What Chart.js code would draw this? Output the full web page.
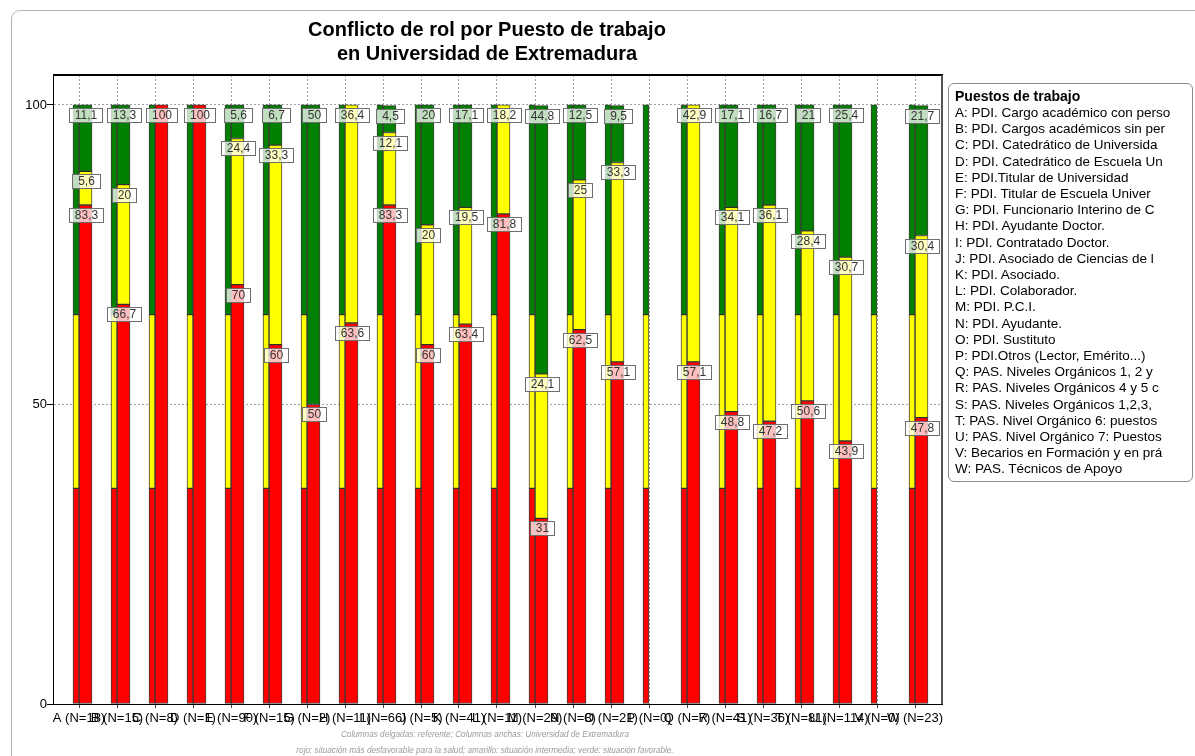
<!DOCTYPE html>
<html><head><meta charset="utf-8">
<script src="https://cdn.jsdelivr.net/npm/chart.js@4/dist/chart.umd.min.js"></script>
<style>
html,body{margin:0;padding:0;background:#fff;width:1195px;height:756px;overflow:hidden;font-family:"Liberation Sans",Arial,sans-serif;}
#frame{position:absolute;left:11px;top:10px;width:1220px;height:820px;border:1px solid #b4b4b4;border-radius:9px;}
#wrap{position:absolute;left:0;top:0;width:1195px;height:756px;}
#title{position:absolute;left:187px;width:600px;top:17px;text-align:center;font-weight:bold;font-size:20px;line-height:24px;color:#000;}
#legend{position:absolute;left:948px;top:83px;width:245px;height:399px;border:1px solid #8a8a8a;border-radius:6px;box-sizing:border-box;padding:3px 0 0 6px;font-size:13.5px;line-height:16.2px;color:#000;white-space:nowrap;overflow:hidden;}
#legend .lt{font-weight:bold;font-size:14px;line-height:18px;}
.foot{position:absolute;left:185px;width:600px;text-align:center;font-style:italic;font-size:8.2px;color:#9a9a9a;}
</style></head>
<body>
<div id="frame"></div>
<div id="wrap"><canvas id="c" width="1195" height="756"></canvas></div>
<div id="title">Conflicto de rol por Puesto de trabajo<br>en Universidad de Extremadura</div>
<div id="legend"></div>
<div class="foot" id="f1" style="top:730px"></div>
<div class="foot" id="f2" style="top:746px"></div>
<script>
const categories = ['A (N=18)','B (N=15)','C (N=8)','D (N=1)','E (N=90)','F (N=15)','G (N=2)','H (N=11)','I (N=66)','J (N=5)','K (N=41)','L (N=11)','M (N=29)','N (N=8)','O (N=21)','P (N=0)','Q (N=7)','R (N=41)','S (N=36)','T (N=81)','U (N=114)','V (N=0)','W (N=23)'];
const rojoUEx     = [83.3,66.7,100,100,70,60,50,63.6,83.3,60,63.4,81.8,31,62.5,57.1,0,57.1,48.8,47.2,50.6,43.9,0,47.8];
const amarilloUEx = [5.6,20,0,0,24.4,33.3,0,36.4,12.1,20,19.5,18.2,24.1,25,33.3,0,42.9,34.1,36.1,28.4,30.7,0,30.4];
const verdeUEx    = [11.1,13.3,0,0,5.6,6.7,50,0,4.5,20,17.1,0,44.8,12.5,9.5,0,0,17.1,16.7,21,25.4,0,21.7];
const rojoRef     = [36,36,36,36,36,36,36,36,36,36,36,36,36,36,36,36,36,36,36,36,36,36,36];
const amarilloRef = [29,29,29,29,29,29,29,29,29,29,29,29,29,29,29,29,29,29,29,29,29,29,29];
const verdeRef    = [35,35,35,35,35,35,35,35,35,35,35,35,35,35,35,35,35,35,35,35,35,35,35];
const yTicks = [0,50,100];
const legendTitle = 'Puestos de trabajo';
const legendItems = ['A: PDI. Cargo académico con perso','B: PDI. Cargos académicos sin per','C: PDI. Catedrático de Universida','D: PDI. Catedrático de Escuela Un','E: PDI.Titular de Universidad','F: PDI. Titular de Escuela Univer','G: PDI. Funcionario Interino de C','H: PDI. Ayudante Doctor.','I: PDI. Contratado Doctor.','J: PDI. Asociado de Ciencias de l','K: PDI. Asociado.','L: PDI. Colaborador.','M: PDI. P.C.I.','N: PDI. Ayudante.','O: PDI. Sustituto','P: PDI.Otros (Lector, Emérito...)','Q: PAS. Niveles Orgánicos 1, 2 y','R: PAS. Niveles Orgánicos 4 y 5 c','S: PAS. Niveles Orgánicos 1,2,3,','T: PAS. Nivel Orgánico 6: puestos','U: PAS. Nivel Orgánico 7: Puestos','V: Becarios en Formación y en prá','W: PAS. Técnicos de Apoyo'];
const footnote1 = 'Columnas delgadas: referente; Columnas anchas: Universidad de Extremadura';
const footnote2 = 'rojo: situación más desfavorable para la salud; amarillo: situación intermedia; verde: situación favorable.';

const lg = document.getElementById('legend');
let html = '<div class="lt">'+legendTitle+'</div>';
legendItems.forEach(t=>{ html += '<div>'+t+'</div>'; });
lg.innerHTML = html;
document.getElementById('f1').textContent = footnote1;
document.getElementById('f2').textContent = footnote2;

const RED='#ff0000', YEL='#ffff00', GRN='#008000';
function pts(arr){ return arr.map((v,i)=>({x:i, y: v>0 ? v : null})); }
function ds(label, arr, color, axis, stack, thick, showLabels){
  return {label, data: pts(arr), values: arr, showLabels, backgroundColor: color,
    borderColor:'rgba(30,30,30,0.85)', borderWidth:1, borderSkipped:false, grouped:false,
    xAxisID: axis, stack, barThickness: thick};
}
const datasets = [
  ds('ref rojo', rojoRef, RED, 'xRef', 'ref', 6, false),
  ds('ref amarillo', amarilloRef, YEL, 'xRef', 'ref', 6, false),
  ds('ref verde', verdeRef, GRN, 'xRef', 'ref', 6, false),
  ds('UEx rojo', rojoUEx, RED, 'xUe', 'ue', 13, true),
  ds('UEx amarillo', amarilloUEx, YEL, 'xUe', 'ue', 13, true),
  ds('UEx verde', verdeUEx, GRN, 'xUe', 'ue', 13, true)
];

const FONT = '"Liberation Sans", Arial, sans-serif';
const spacing = 38;
const plotW = 889;
const minMain = -26/spacing;
const maxMain = minMain + plotW/spacing;
const shiftUe = 6.5/spacing, shiftRef = -3/spacing;

const labelPlugin = {
  id:'segLabels',
  afterDatasetsDraw(chart){
    const ctx = chart.ctx;
    ctx.save();
    ctx.font = '12px ' + FONT;
    ctx.textAlign='center'; ctx.textBaseline='middle';
    chart.data.datasets.forEach((d, di)=>{
      if(!d.showLabels) return;
      const meta = chart.getDatasetMeta(di);
      meta.data.forEach((el, i)=>{
        const v = d.values[i];
        if(!v) return;
        const txt = String(v).replace('.', ',');
        const w = Math.round(ctx.measureText(txt).width + 11);
        const h = 14;
        const cx = el.x, cy = el.y + 10;
        const x0 = Math.round(cx - w/2), y0 = Math.round(cy - h/2);
        ctx.fillStyle='rgba(255,255,255,0.75)';
        ctx.fillRect(x0, y0, w, h);
        ctx.strokeStyle='#6e6e6e'; ctx.lineWidth=1;
        ctx.strokeRect(x0+0.5, y0+0.5, w, h);
        ctx.fillStyle='#333';
        ctx.fillText(txt, x0 + w/2 + 0.5, y0 + h/2 + 1);
      });
    });
    ctx.restore();
  }
};
const framePlugin = {
  id:'frameLines',
  afterDatasetsDraw(chart){
    const a = chart.chartArea, ctx = chart.ctx;
    ctx.save();
    ctx.strokeStyle='#000'; ctx.lineWidth=2;
    ctx.beginPath(); ctx.moveTo(a.left, a.top); ctx.lineTo(a.right+1, a.top); ctx.stroke();
    ctx.strokeStyle='#555'; ctx.lineWidth=2;
    ctx.beginPath(); ctx.moveTo(a.right, a.top); ctx.lineTo(a.right, a.bottom); ctx.stroke();
    ctx.restore();
  }
};
const hiddenX = (mn, mx) => ({ type:'linear', display:false, min:mn, max:mx, bounds:'data', offset:false, grid:{offset:false}, ticks:{includeBounds:true} });

new Chart(document.getElementById('c'), {
  type:'bar',
  data:{ datasets },
  options:{
    responsive:false, animation:false,
    layout:{ padding:{ left:0, top:75, right:253, bottom:0 } },
    plugins:{ legend:{display:false}, tooltip:{enabled:false}, title:{display:false} },
    scales:{
      x:{
        type:'linear', min:minMain, max:maxMain, position:'bottom', bounds:'data', offset:false,
        afterBuildTicks(s){ s.ticks = categories.map((_,i)=>({value:i})); },
        afterFit(s){ s.height = 52; },
        ticks:{ autoSkip:false, maxRotation:0, minRotation:0, padding:3, color:'#000',
          font:{family:FONT, size:13}, callback:(v)=>categories[v] },
        grid:{ offset:false, color:'#a0a0a0', tickBorderDash:[], tickColor:'#444', tickLength:4, drawOnChartArea:true },
        border:{ display:true, color:'#000', width:1, dash:[2,2] }
      },
      xUe: hiddenX(minMain - shiftUe, maxMain - shiftUe),
      xRef: hiddenX(minMain - shiftRef, maxMain - shiftRef),
      y:{
        stacked:true, min:0, max:105,
        afterBuildTicks(s){ s.ticks = yTicks.map(v=>({value:v})); },
        afterFit(s){ s.width = 53; },
        ticks:{ color:'#000', font:{family:FONT, size:13}, padding:0 },
        grid:{ color:'#a0a0a0', tickBorderDash:[], tickColor:'#000', tickLength:6 },
        border:{ display:true, color:'#000', width:1, dash:[2,2] }
      }
    }
  },
  plugins:[framePlugin, labelPlugin]
});
</script>
</body></html>
